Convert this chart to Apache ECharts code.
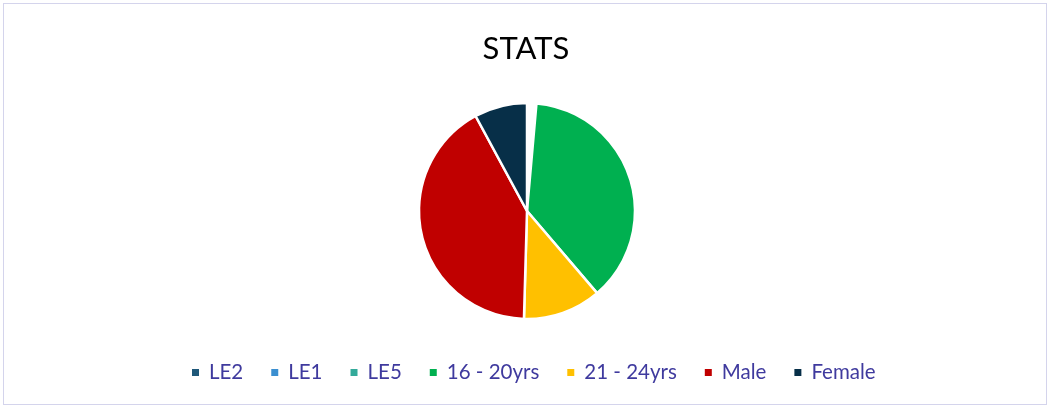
<!DOCTYPE html>
<html>
<head>
<meta charset="utf-8">
<script src="https://cdn.jsdelivr.net/npm/echarts@6/dist/echarts.min.js"></script>
<style>
html,body{margin:0;padding:0;background:#fff;}
#frame{position:absolute;left:3px;top:3px;width:1044px;height:402px;border:1px solid #d4d4ec;box-sizing:border-box;}
#chart{position:absolute;left:0;top:0;width:1052px;height:410px;}
</style>
</head>
<body>
<div id="frame"></div>
<div id="chart"></div>
<script>
const categories = ['LE2', 'LE1', 'LE5', '16 - 20yrs', '21 - 24yrs', 'Male', 'Female'];
const values = [0.5, 0.5, 0.4, 37.4, 11.7, 41.7, 7.9];
const legendColors = ['#1f5879', '#3b8fd0', '#33aa9a', '#00b050', '#ffc000', '#c00000', '#072f48'];
const sliceColors = ['#ffffff', '#ffffff', '#ffffff', '#00b050', '#ffc000', '#c00000', '#072f48'];

const chart = echarts.init(document.getElementById('chart'), null, {renderer: 'canvas'});
chart.setOption({
  animation: false,
  title: {
    text: 'STATS', left: 'center', top: 28,
    textStyle: {fontFamily: 'Lato', fontWeight: 'normal', fontSize: 31, color: '#000'}
  },
  legend: {
    bottom: 22, left: 185,
    icon: 'rect', itemWidth: 9, itemHeight: 9, itemGap: 26,
    textStyle: {fontFamily: 'Lato', fontSize: 20.5, color: '#3f3a9e', padding: [0,0,0,4]},
    data: categories.map((c, i) => ({name: c, itemStyle: {color: legendColors[i]}}))
  },
  series: [{
    type: 'pie',
    center: [527, 211], radius: 108,
    startAngle: 90, clockwise: true,
    label: {show: false}, labelLine: {show: false},
    emphasis: {disabled: true},
    itemStyle: {borderColor: '#fff', borderWidth: 2.5},
    data: categories.map((c, i) => ({name: c, value: values[i], itemStyle: {color: sliceColors[i]}}))
  }]
});
</script>
</body>
</html>
